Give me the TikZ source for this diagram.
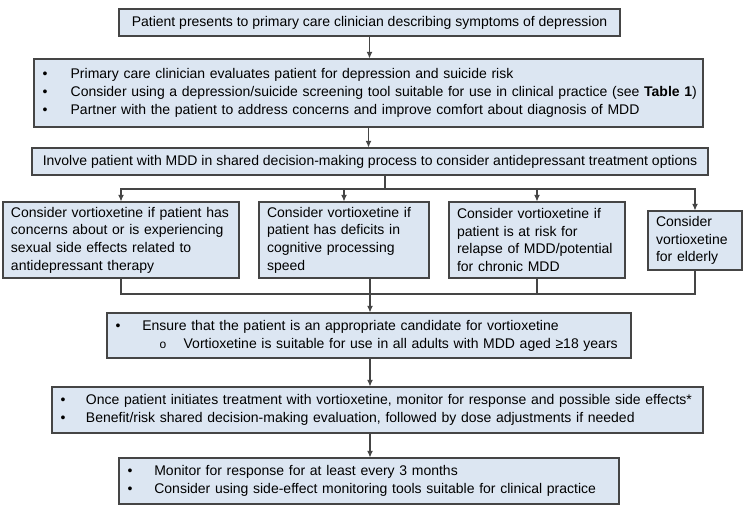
\documentclass[tikz,border=0pt]{standalone}
\usepackage{fontspec}
\setmainfont{Liberation Sans}
\usetikzlibrary{arrows.meta}
\definecolor{boxfill}{HTML}{DCE6F2}
\definecolor{boxline}{HTML}{454545}
\newcommand{\bul}[1][21pt]{\makebox[#1][l]{\textbullet}}
\tikzset{
  box/.style={draw=boxline, fill=boxfill, line width=0.8pt, inner xsep=6.5pt, inner ysep=1pt,
    align=left, font=\fontsize{10.5}{13.5}\selectfont},
  opt/.style={box, inner xsep=6pt, font=\fontsize{10.5}{13.3}\selectfont},
  arr/.style={-{Latex[length=5pt,width=4.5pt]}, draw=boxline, line width=0.8pt},
  lin/.style={draw=boxline, line width=0.8pt}
}
\begin{document}
\begin{tikzpicture}[x=0.75pt, y=-0.75pt]
		\useasboundingbox (0,0) rectangle (750,510);
		% first steps
		\node[box, align=center, minimum width=375.75pt, minimum height=20.25pt] (pres) at (369.5,22.5)
			{Patient presents to primary care clinician describing symptoms of depression};
		\node[box, text width=488.75pt, minimum height=51pt] (eval) at (368.5,93)
			{\bul Primary care clinician evaluates patient for depression and suicide risk\\
			 \bul\makebox[466pt][l]{Consider using a depression/suicide screening tool suitable for use in clinical practice (see \textbf{Table 1})}\\
			 \bul Partner with the patient to address concerns and improve comfort about diagnosis of MDD};
		\node[box, align=center, minimum width=507pt, minimum height=20.25pt] (sdm) at (370,161.5)
			{Involve patient with MDD in shared decision-making process to consider antidepressant treatment options};
		% options
		\node[opt, text width=165pt, minimum height=57pt] (sex) at (121,240)
			{Consider vortioxetine if patient has\\ concerns about or is experiencing\\ sexual side effects related to\\ antidepressant therapy};
		\node[opt, text width=115.5pt, minimum height=57pt] (cog) at (344,240)
			{Consider vortioxetine if\\ patient has deficits in\\ cognitive processing\\ speed};
		\node[opt, text width=120pt, minimum height=57pt] (rel) at (537,240)
			{Consider vortioxetine if\\ patient is at risk for\\ relapse of MDD/potential\\ for chronic MDD};
		\node[opt, text width=58.5pt, minimum height=44.25pt] (old) at (695,240.5)
			{Consider\\ vortioxetine\\ for elderly};
		% treatment
		\node[box, text width=380pt, minimum height=33.75pt] (cand) at (369,335.5)
			{\bul[20pt]Ensure that the patient is an appropriate candidate for vortioxetine\\
			 \hspace*{33pt}\makebox[18pt][l]{\small o}Vortioxetine is suitable for use in all adults with MDD aged ≥18 years};
		\node[box, text width=475.25pt, minimum height=34.5pt] (init) at (377.5,410)
			{\bul[19pt]Once patient initiates treatment with vortioxetine, monitor for response and possible side effects*\\
			 \bul[19pt]Benefit/risk shared decision-making evaluation, followed by dose adjustments if needed};
		\node[box, text width=362pt, minimum height=34.5pt] (mon) at (369,481)
			{\bul[20pt]Monitor for response for at least every 3 months\\
			 \bul[20pt]Consider using side-effect monitoring tools suitable for clinical practice};
		\coordinate (split) at (385,189);
		\coordinate (join) at (370,294);
		\draw[arr] (pres) -- (pres |- eval.north);
		\draw[arr] (eval) -- (eval |- sdm.north);
		\draw[lin] (sdm.south -| split) -- (split);
		\foreach \o in {sex,cog,rel,old}
			\draw[arr] (split) -| (\o.north);
		\draw[lin] (sex.south) |- (join) -| (old.south);
		\draw[lin] (cog.south -| join) -- (join);
		\draw[lin] (rel.south) -- (rel.south |- join);
		\draw[arr] (join) -- (join |- cand.north);
		\draw[arr] (cand.south -| join) -- (join |- init.north);
		\draw[arr] (init.south -| join) -- (join |- mon.north);
	\end{tikzpicture}
\end{document}
